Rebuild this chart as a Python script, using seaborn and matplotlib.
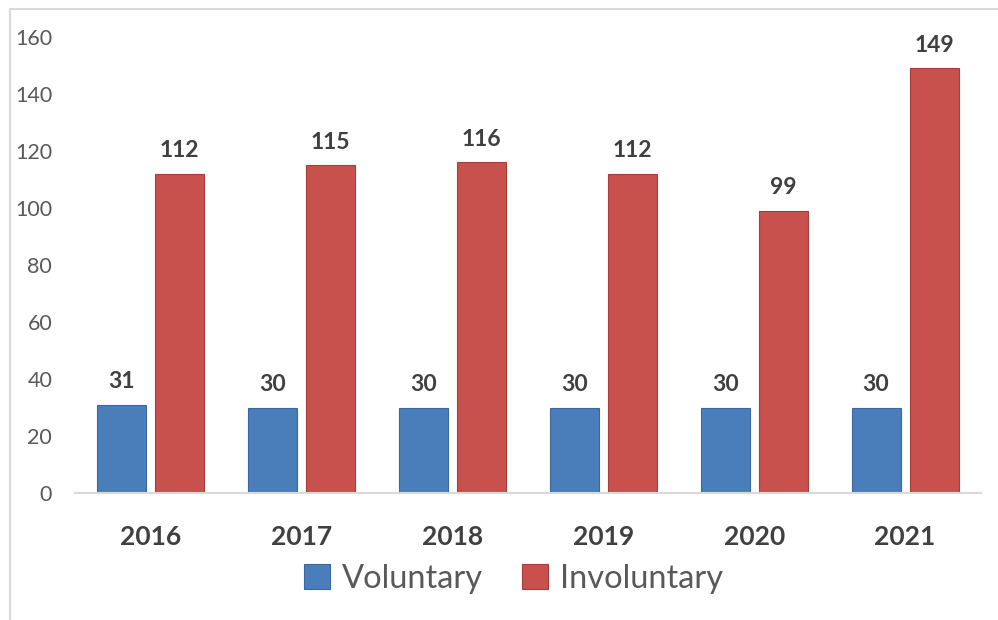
import matplotlib
matplotlib.use("Agg")
import matplotlib.pyplot as plt
import matplotlib.lines as mlines
import seaborn as sns
import pandas as pd

years = ["2016", "2017", "2018", "2019", "2020", "2021"]
voluntary = [31, 30, 30, 30, 30, 30]
involuntary = [112, 115, 116, 112, 99, 149]
series_names = ["Voluntary", "Involuntary"]
colors = ["#4A7EBB", "#C8504D"]
edge_colors = ["#3A67A0", "#A63D3A"]

df = pd.DataFrame({
    "year": years * 2,
    "value": voluntary + involuntary,
    "type": [series_names[0]] * len(years) + [series_names[1]] * len(years),
})

sns.set_theme(style="white")
plt.rcParams["font.family"] = ["Lato", "DejaVu Sans"]

fig = plt.figure(figsize=(9.98, 6.20), dpi=100)
ax = fig.add_axes([0.0752, 0.2048, 0.9073, 0.7355])

sns.barplot(data=df, x="year", y="value", hue="type", palette=colors,
            width=0.768, gap=0.155, ax=ax, legend=False,
            edgecolor="none", saturation=1)

for cont, ec in zip(ax.containers, edge_colors):
    for bar in cont:
        bar.set_edgecolor(ec)
        bar.set_linewidth(0.8)
        h = bar.get_height()
        ax.annotate(f"{int(h)}", (bar.get_x() + bar.get_width() / 2, h),
                    xytext=(0, 9), textcoords="offset points",
                    ha="center", va="bottom", fontsize=16.5, fontweight="bold",
                    color="#404040")

ax.set_ylim(0, 160)
ax.set_xlim(-0.5, 5.5)
ax.set_yticks(range(0, 161, 20))
ax.set_xlabel("")
ax.set_ylabel("")
for s in ["top", "right", "left"]:
    ax.spines[s].set_visible(False)
ax.spines["bottom"].set_color("#D9D9D9")
ax.spines["bottom"].set_linewidth(1.5)
ax.tick_params(axis="y", length=0, labelsize=15.5, labelcolor="#595959", pad=16.5)
ax.tick_params(axis="x", length=0, labelsize=19, labelcolor="#404040", pad=23)
for t in ax.get_xticklabels():
    t.set_fontweight("bold")

handles = [plt.Rectangle((0, 0), 1, 1, facecolor=c, edgecolor=ec, linewidth=0.8)
           for c, ec in zip(colors, edge_colors)]
fig.legend(handles, series_names, loc="center", bbox_to_anchor=(0.5145, 0.066),
           ncol=2, frameon=False, fontsize=23.5, labelcolor="#595959",
           handlelength=0.8, handleheight=0.8, handletextpad=0.35, columnspacing=1.2)

# outer frame lines
fig.add_artist(mlines.Line2D([10 / 998, 10 / 998], [0, 1 - 9 / 620],
                             transform=fig.transFigure, color="#D9D9D9", lw=1.5))
fig.add_artist(mlines.Line2D([10 / 998, 1], [1 - 9 / 620, 1 - 9 / 620],
                             transform=fig.transFigure, color="#D9D9D9", lw=1.5))

fig.savefig("out.png", dpi=100)
